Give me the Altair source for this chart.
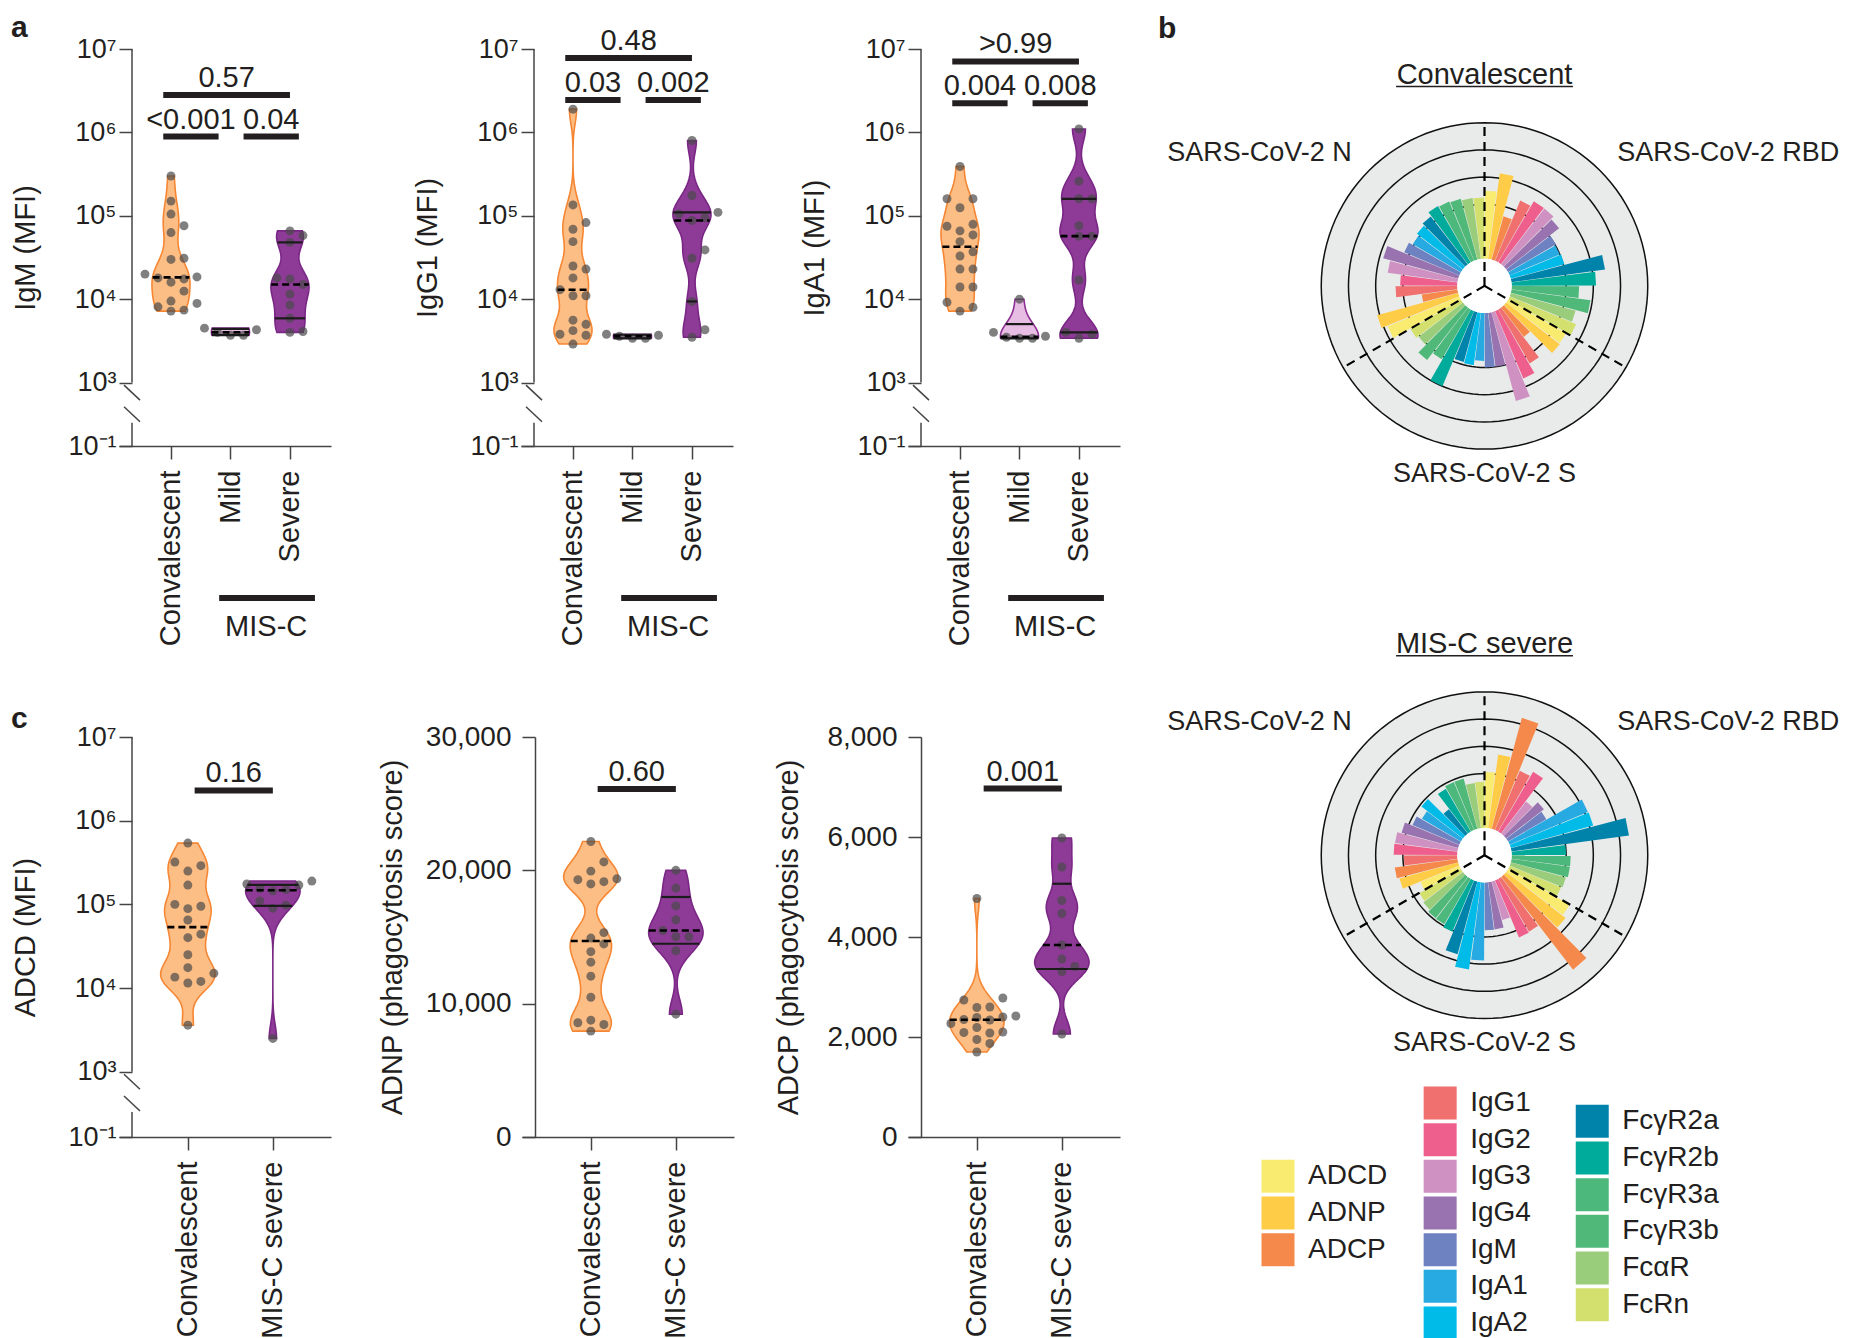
import altair as alt
import numpy as np
import pandas as pd

FONT = "Liberation Sans"
INK = "#231f20"
AXC = "#444444"

# ---------------------------------------------------------------- data: panel a / c
A_GROUPS = ["Convalescent", "Mild", "Severe"]
C_GROUPS = ["Convalescent", "MIS-C severe"]

IGM_CONV = [3.0e5, 1.5e5, 1.05e5, 7.6e4, 6.3e4, 3.1e4, 3.0e4, 2.0e4, 1.85e4, 1.8e4,
            1.75e4, 1.6e4, 1.25e4, 9.5e3, 8.9e3, 8.1e3, 7.4e3, 7.2e3]
IGM_MILD = [4.5e3, 4.3e3, 4.0e3, 3.7e3, 3.7e3]
IGM_SEV = [6.6e4, 5.8e4, 4.8e4, 1.8e4, 1.75e4, 1.5e4, 1.15e4, 8.5e3, 5.9e3, 4.1e3, 4.0e3]

IGG1_CONV = [1.9e6, 1.35e5, 8.3e4, 6.9e4, 4.9e4, 2.5e4, 2.3e4, 1.8e4, 1.3e4, 1.1e4,
             1.1e4, 5.6e3, 5.0e3, 4.2e3, 3.8e3, 3.7e3, 2.9e3]
IGG1_MILD = [3.8e3, 3.7e3, 3.6e3, 3.4e3, 3.4e3]
IGG1_SEV = [8.0e5, 1.75e5, 1.1e5, 1.05e5, 9.5e4, 8.8e4, 3.9e4, 3.1e4, 9.4e3, 4.3e3, 3.5e3]

IGA1_CONV = [3.9e5, 1.6e5, 1.6e5, 1.25e5, 7.9e4, 7.5e4, 6.6e4, 5.9e4, 4.9e4, 3.7e4,
             3.3e4, 2.3e4, 2.3e4, 1.4e4, 1.4e4, 9.2e3, 8.0e3, 7.2e3]
IGA1_MILD = [1.0e4, 4.0e3, 3.6e3, 3.5e3, 3.4e3, 3.4e3]
IGA1_SEV = [1.1e6, 2.6e5, 1.6e5, 1.6e5, 7.6e4, 5.7e4, 5.7e4, 1.7e4, 4.0e3, 3.8e3, 3.4e3]

ADCD_CONV = [5.4e5, 3.2e5, 2.9e5, 2.5e5, 1.7e5, 1.0e5, 9.5e4, 8.9e4, 6.5e4, 4.4e4,
             4.0e4, 2.5e4, 1.75e4, 1.5e4, 1.35e4, 1.2e4, 1.15e4, 3.6e3]
ADCD_SEV = [1.9e5, 1.75e5, 1.7e5, 1.55e5, 1.5e5, 1.45e5, 1.1e5, 9.8e4, 9.0e4, 2.5e3]

ADNP_CONV = [22160, 20630, 19940, 19365, 19300, 19150, 18980, 15330, 14920, 14480,
             13900, 13110, 12060, 10480, 8760, 8570, 8440, 7940]
ADNP_SEV = [20000, 18670, 17330, 16290, 15490, 15020, 15020, 13970, 9210]

ADCP_CONV = [4770, 2780, 2740, 2600, 2590, 2420, 2400, 2390, 2350, 2340,
             2270, 2190, 2100, 2090, 2080, 1950, 1870, 1700]
ADCP_SEV = [5980, 5400, 4730, 4470, 3840, 3560, 3410, 3310, 2060]

# p-value brackets: (group i, group j, level, label)
IGM_P = [(0, 1, 8.9e5, "<0.001"), (1, 2, 8.9e5, "0.04"), (0, 2, 2.8e6, "0.57")]
IGG1_P = [(0, 1, 2.45e6, "0.03"), (1, 2, 2.45e6, "0.002"), (0, 2, 7.8e6, "0.48")]
IGA1_P = [(0, 1, 2.24e6, "0.004"), (1, 2, 2.24e6, "0.008"), (0, 2, 7.1e6, ">0.99")]
ADCD_P = [(0, 1, 2.3e6, "0.16")]
ADNP_P = [(0, 1, 26100, "0.60")]
ADCP_P = [(0, 1, 6970, "0.001")]

GROUP_FILL = {"Convalescent": "#FDBE85", "Mild": "#E8BDE4", "Severe": "#8E3B97", "MIS-C severe": "#8E3B97"}
GROUP_STROKE = {"Convalescent": "#F58634", "Mild": "#8C2F93", "Severe": "#7A2685", "MIS-C severe": "#7A2685"}

# ---------------------------------------------------------------- data: panel b
ANTIGENS = ["SARS-CoV-2 RBD", "SARS-CoV-2 S", "SARS-CoV-2 N"]
FEATURES = ["ADCD", "ADNP", "ADCP", "IgG1", "IgG2", "IgG3", "IgG4", "IgM", "IgA1", "IgA2",
            "FcγR2a", "FcγR2b", "FcγR3a", "FcγR3b", "FcαR", "FcRn"]
FEATURE_FAMILY = [0, 0, 0, 1, 1, 1, 1, 1, 1, 1, 2, 2, 2, 2, 2, 2]
FEATURE_COLORS = ["#F8EB70", "#FFCC48", "#F5894B", "#F06F6F", "#EE5F8D", "#CF90C2", "#9873B0",
                  "#6E81C1", "#27A9E1", "#00BAE8", "#0083AA", "#00AB9C", "#4DB87B", "#50B97A",
                  "#99CC7B", "#D3E06E"]

CONV_RBD = [3.5, 4.18, 2.65, 3.4, 3.6, 3.6, 3.47, 3.04, 3.0, 3.04, 4.47, 4.1, 3.48, 3.93, 3.47, 3.65]
CONV_S = [3.47, 3.5, 2.37, 3.3, 3.69, 4.39, 3.0, 3.0, 2.76, 2.94, 2.9, 4.0, 3.12, 3.45, 3.06, 3.15]
CONV_N = [3.86, 4.09, 2.33, 3.27, 3.1, 3.59, 3.86, 3.2, 3.05, 3.14, 3.23, 3.4, 3.36, 3.32, 3.26, 3.25]

MISC_RBD = [3.06, 3.73, 5.23, 3.36, 3.55, 2.5, 2.76, 2.63, 4.12, 4.14, 5.36, 3.0, 3.17, 3.17, 3.1, 3.05]
MISC_S = [3.62, 3.77, 5.32, 3.25, 3.28, 2.47, 2.75, 2.76, 3.87, 4.24, 3.77, 3.05, 2.94, 2.93, 2.84, 2.77]
MISC_N = [2.55, 3.24, 3.33, 2.97, 3.34, 3.32, 3.16, 2.87, 2.66, 2.93, 2.14, 2.83, 2.92, 2.92, 2.68, 2.7]

RING_VALUES = [3, 4, 5, 6]
HOLE = 1

# ---------------------------------------------------------------- layout constants
PANEL_W = 212
A_XDOM = [-0.874, 2.69]
C_XDOM = [-0.81, 1.684]
A_H, A_YDOM = 397, [2.24, 7.0]
C_H, C_LOG_YDOM = 400, [2.22, 7.0]
BREAK = (2.52, 3.0)
HALF_W = 0.32
LOG_BW = 0.17

P_PPU = 27.2
P_XDOM = [-12.0, 12.0]
P_W = int(round((P_XDOM[1] - P_XDOM[0]) * P_PPU))
LETTER_SIZE = 30


def swarm(ypx, step=13.0, diam=10.0):
    order = np.argsort(ypx)
    placed = []
    out = np.zeros(len(ypx))
    for i in order:
        y = ypx[i]
        x = 0.0
        for k in (0, 1, -1, 2, -2, 3, -3):
            x = k * step
            if all((x - px) ** 2 + (y - py) ** 2 >= diam ** 2 for px, py in placed):
                break
        placed.append((x, y))
        out[i] = x
    return out


def bracket_span(i, j, n):
    if n == 2:
        return i + 0.08, j + 0.0
    if j - i == 2:
        return i - 0.13, j + 0.0
    if i == 0:
        return i - 0.13, j - 0.2
    return i + 0.22, j + 0.15


SUP = {3: "³", 4: "⁴", 5: "⁵", 6: "⁶", 7: "⁷"}


def violin_panel(ytitle, groups, series, brackets, log, ydom, height, xdom, bw,
                 ext, lin_ticks=None, misc=False):
    n = len(groups)
    xppu = PANEL_W / (xdom[1] - xdom[0])
    yppu = height / (ydom[1] - ydom[0])
    rows = []
    for gi, (g, vals) in enumerate(zip(groups, series)):
        yv = np.log10(vals) if log else np.asarray(vals, float)
        offs = swarm(yv * yppu)
        for v, o in zip(vals, offs):
            rows.append({"grp": g, "pos": gi, "v": v, "jx": o / xppu})
    df = pd.DataFrame(rows)
    yexpr = "log(datum.v)/LN10" if log else "datum.v"

    xs = alt.Scale(domain=xdom, nice=False, zero=False)
    ys = alt.Scale(domain=ydom, nice=False, zero=False)
    lab = " : ".join(f"datum.value == {i} ? '{g}'" for i, g in enumerate(groups[:-1]))
    lab += f" : '{groups[-1]}'"
    xaxis = alt.Axis(values=list(range(n)), labelExpr=lab, title=None, labelAngle=270,
                     labelAlign="right", labelBaseline="middle", labelPadding=11, tickSize=13,
                     grid=False, domainColor=AXC, tickColor=AXC, domainWidth=1.5, tickWidth=1.5,
                     labelFont=FONT, labelFontSize=29, labelColor=INK, labelLimit=400,
                     labelFlush=False, labelOverlap=False)
    common_y = dict(title=ytitle, offset=-13, tickSize=13, grid=False, tickColor=AXC,
                    tickWidth=1.5, domainColor=AXC, domainWidth=1.5, labelFont=FONT,
                    labelColor=INK, titleFont=FONT, titleFontSize=29, titleFontWeight="normal",
                    titleColor=INK, titlePadding=12, minExtent=ext, maxExtent=ext,
                    labelFlush=False, labelOverlap=False, titleLimit=600)
    if log:
        lexpr = (f"datum.value < 2.6 ? '10⁻¹' : " +
                 " : ".join(f"datum.value == {k} ? '10{SUP[k]}'" for k in (3, 4, 5, 6)) +
                 f" : '10{SUP[7]}'")
        yaxis = alt.Axis(values=[ydom[0], 3, 4, 5, 6, 7], labelExpr=lexpr, domain=False,
                         labelPadding=3, labelFontSize=27, **common_y)
    else:
        yaxis = alt.Axis(values=lin_ticks, format=",d", domain=True, labelPadding=11,
                         labelFontSize=28, **common_y)

    def X(f, **kw):
        return alt.X(f, type="quantitative", scale=xs, axis=xaxis, **kw)

    def Y(f):
        return alt.Y(f, type="quantitative", scale=ys, axis=yaxis)

    base = alt.Chart(df).transform_calculate(y=yexpr)
    fill_scale = alt.Scale(domain=list(GROUP_FILL.keys()), range=list(GROUP_FILL.values()))
    stroke_scale = alt.Scale(domain=list(GROUP_STROKE.keys()), range=list(GROUP_STROKE.values()))

    violins, lines = [], []
    for gi, g in enumerate(groups):
        # quartiles at rank (n+1)p, interpolated between neighbouring ranks
        gb = (base.transform_filter(f"datum.pos == {gi}")
              .transform_window(rk="row_number()", sort=[alt.SortField("y", order="ascending")])
              .transform_joinaggregate(cnt="count()")
              .transform_calculate(wy1="max(0, 1 - abs(datum.rk - 0.25*(datum.cnt+1)))*datum.y",
                                   wy2="max(0, 1 - abs(datum.rk - 0.50*(datum.cnt+1)))*datum.y",
                                   wy3="max(0, 1 - abs(datum.rk - 0.75*(datum.cnt+1)))*datum.y")
              .transform_joinaggregate(q1="sum(wy1)", med="sum(wy2)", q3="sum(wy3)"))
        violins.append(
            gb.transform_density("y", as_=["yy", "dens"], groupby=["grp", "pos"],
                                 bandwidth=bw, steps=120)
            .transform_joinaggregate(dmax="max(dens)")
            .transform_calculate(xl=f"datum.pos - {HALF_W}*datum.dens/datum.dmax",
                                 xr=f"datum.pos + {HALF_W}*datum.dens/datum.dmax")
            .mark_area(orient="horizontal", strokeWidth=1.6, opacity=1)
            .encode(x=X("xl", stack=None), x2="xr:Q", y=Y("yy"),
                    fill=alt.Fill("grp:N", scale=fill_scale, legend=None),
                    stroke=alt.Stroke("grp:N", scale=stroke_scale, legend=None)))
        lb = (gb.transform_density("y", as_=["yy", "dens"],
                                   groupby=["grp", "pos", "q1", "med", "q3"],
                                   bandwidth=bw, steps=120)
              .transform_calculate(d1="abs(datum.yy - datum.q1)", d2="abs(datum.yy - datum.med)",
                                   d3="abs(datum.yy - datum.q3)")
              .transform_aggregate(a1="argmin(d1)", a2="argmin(d2)", a3="argmin(d3)",
                                   dmax="max(dens)", groupby=["grp", "pos", "q1", "med", "q3"])
              .transform_calculate(
                  l1=f"datum.pos - {HALF_W}*datum.a1.dens/datum.dmax",
                  r1=f"datum.pos + {HALF_W}*datum.a1.dens/datum.dmax",
                  l2=f"datum.pos - {HALF_W}*datum.a2.dens/datum.dmax",
                  r2=f"datum.pos + {HALF_W}*datum.a2.dens/datum.dmax",
                  l3=f"datum.pos - {HALF_W}*datum.a3.dens/datum.dmax",
                  r3=f"datum.pos + {HALF_W}*datum.a3.dens/datum.dmax"))
        if g != "Convalescent":
            for k, f in (("1", "q1"), ("3", "q3")):
                lines.append(lb.mark_rule(color="#1b1b1b", strokeWidth=2.2).encode(
                    x=X("l" + k), x2=f"r{k}:Q", y=Y(f)))
        lines.append(lb.mark_rule(color="black", strokeWidth=2.6, strokeDash=[7, 4]).encode(
            x=X("l2"), x2="r2:Q", y=Y("med")))

    pts = (base.transform_calculate(px="datum.pos + datum.jx")
           .mark_circle(size=80, color="#4a4a4a", opacity=0.7)
           .encode(x=X("px"), y=Y("y")))

    brows = []
    for i, j, lv, labtxt in brackets:
        b1, b2 = bracket_span(i, j, n)
        brows.append({"bx1": b1, "bx2": b2, "bxc": (b1 + b2) / 2, "lv": lv, "label": labtxt})
    bdf = alt.Chart(pd.DataFrame(brows)).transform_calculate(
        yb=yexpr.replace("datum.v", "datum.lv"))
    bbar = bdf.mark_rule(color=INK, strokeWidth=6).encode(x=X("bx1"), x2="bx2:Q", y=Y("yb"))
    btxt = bdf.mark_text(font=FONT, fontSize=29, color=INK, baseline="alphabetic", dy=-8).encode(
        x=X("bxc"), y=Y("yb"), text="label:N")

    layers = violins + [pts] + lines + [bbar, btxt]

    xa = xdom[0] + 13 / xppu
    if log:
        seg = pd.DataFrame({"ya": [ydom[0], BREAK[1]], "yb2": [BREAK[0], ydom[1]]})
        axl = (alt.Chart(seg).transform_calculate(xa=str(xa))
               .mark_rule(color=AXC, strokeWidth=1.5)
               .encode(x=X("xa"), y=Y("ya"), y2="yb2:Q"))
        dx, dy = 8 / xppu, 7.5 / yppu
        sl = pd.DataFrame({"yc": [BREAK[1] - 0.12, BREAK[0] + 0.1]})
        sla = (alt.Chart(sl).transform_calculate(sx1=str(xa - dx), sx2=str(xa + dx),
                                                 sy1=f"datum.yc + {dy}", sy2=f"datum.yc - {dy}")
               .mark_rule(color=AXC, strokeWidth=1.5)
               .encode(x=X("sx1"), y=Y("sy1"), x2="sx2:Q", y2="sy2:Q"))
        layers += [axl, sla]

    if misc:
        mdf = pd.DataFrame([{"m1": 1 - 0.19, "m2": 2 + 0.42, "mc": 1.6,
                             "my": ydom[0] - 152 / yppu, "mt": ydom[0] - 181 / yppu,
                             "label": "MIS-C"}])
        mb = alt.Chart(mdf).mark_rule(color=INK, strokeWidth=6).encode(
            x=X("m1"), x2="m2:Q", y=Y("my"))
        mt = alt.Chart(mdf).mark_text(font=FONT, fontSize=29, color=INK, baseline="middle").encode(
            x=X("mc"), y=Y("mt"), text="label:N")
        layers += [mb, mt]

    return alt.layer(*layers).properties(width=PANEL_W, height=height)


def polar_chart(title, vals, ydom, letter=None):
    height = int(round((ydom[1] - ydom[0]) * P_PPU))
    xs = alt.Scale(domain=P_XDOM, nice=False, zero=False)
    ys = alt.Scale(domain=ydom, nice=False, zero=False)

    def X(f):
        return alt.X(f, type="quantitative", scale=xs, axis=None)

    def Y(f):
        return alt.Y(f, type="quantitative", scale=ys, axis=None)

    rows = []
    for ai, ant in enumerate(ANTIGENS):
        for fi, feat in enumerate(FEATURES):
            rows.append({"ai": ai, "fi": fi, "feature": feat, "val": vals[ai][fi]})
    bdf = pd.DataFrame(rows)
    nf = len(FEATURES)
    step = f"(2*PI/{nf * len(ANTIGENS)})"
    feat_scale = alt.Scale(domain=FEATURES, range=FEATURE_COLORS)

    circ = alt.sequence(0, 361, 3, as_="t")
    rmax = RING_VALUES[-1]
    disk = (alt.Chart(circ)
            .transform_calculate(px=f"{rmax}*sin(datum.t*PI/180)", py=f"{rmax}*cos(datum.t*PI/180)")
            .mark_line(fill="#E9EBEA", strokeWidth=0)
            .encode(x=X("px"), y=Y("py"), order="t:Q"))
    rings = (alt.Chart(circ)
             .transform_calculate(r=str(RING_VALUES))
             .transform_flatten(["r"])
             .transform_calculate(px="datum.r*sin(datum.t*PI/180)", py="datum.r*cos(datum.t*PI/180)")
             .mark_line(stroke="#111111", strokeWidth=1.5)
             .encode(x=X("px"), y=Y("py"), order="t:Q", detail="r:N"))
    bars = (alt.Chart(bdf)
            .transform_calculate(bid=f"datum.ai*{nf}+datum.fi")
            .transform_calculate(a0=f"datum.bid*{step} + 0.004")
            .transform_calculate(a1=f"(datum.bid+1)*{step} - 0.004")
            .transform_calculate(k="[0,1,2,3]")
            .transform_flatten(["k"])
            .transform_calculate(ang="datum.k < 2 ? datum.a0 : datum.a1")
            .transform_calculate(rr=f"(datum.k == 0 || datum.k == 3) ? {HOLE} : datum.val")
            .transform_calculate(px="datum.rr*sin(datum.ang)", py="datum.rr*cos(datum.ang)")
            .mark_line(strokeWidth=0)
            .encode(x=X("px"), y=Y("py"), order="k:Q", detail="bid:N",
                    fill=alt.Fill("feature:N", scale=feat_scale, legend=None)))
    hole = (alt.Chart(circ)
            .transform_calculate(px=f"{HOLE}*sin(datum.t*PI/180)", py=f"{HOLE}*cos(datum.t*PI/180)")
            .mark_line(fill="white", strokeWidth=0)
            .encode(x=X("px"), y=Y("py"), order="t:Q"))
    adf = pd.DataFrame({"antigen": ANTIGENS, "ai": list(range(len(ANTIGENS))),
                        "lang": [45, 180, 315]})
    radial = (alt.Chart(adf)
              .transform_calculate(a=f"datum.ai*2*PI/{len(ANTIGENS)}")
              .transform_calculate(x0="0", y0="0", xe=f"{rmax}*sin(datum.a)", ye=f"{rmax}*cos(datum.a)")
              .mark_rule(color="black", strokeWidth=2.2, strokeDash=[9, 6])
              .encode(x=X("x0"), y=Y("y0"), x2="xe:Q", y2="ye:Q"))
    lab_base = alt.Chart(adf).transform_calculate(
        lx="6.9*sin(datum.lang*PI/180)", ly="6.9*cos(datum.lang*PI/180)")
    labs = []
    for cond, al in (("sin(datum.lang*PI/180) > 0.1", "left"),
                     ("sin(datum.lang*PI/180) < -0.1", "right"),
                     ("abs(sin(datum.lang*PI/180)) <= 0.1", "center")):
        labs.append(lab_base.transform_filter(cond)
                    .mark_text(font=FONT, fontSize=27, color=INK, align=al, baseline="middle")
                    .encode(x=X("lx"), y=Y("ly"), text="antigen:N"))
    tdf = pd.DataFrame([{"title": title, "tx": 0.0, "ty": 7.76, "u1": -3.25, "u2": 3.25, "uy": 7.33}])
    ttl = alt.Chart(tdf).mark_text(font=FONT, fontSize=29, color=INK, baseline="middle").encode(
        x=X("tx"), y=Y("ty"), text="title:N")
    und = alt.Chart(tdf).mark_rule(color=INK, strokeWidth=1.5).encode(
        x=X("u1"), x2="u2:Q", y=Y("uy"))

    ch = alt.layer(disk, rings, bars, hole, radial, *labs, ttl, und).properties(
        width=P_W, height=height)
    if letter:
        ch = ch.properties(title=alt.TitleParams(letter, anchor="start", frame="bounds",
                                                 fontSize=LETTER_SIZE, fontWeight="bold",
                                                 font=FONT, color=INK, offset=5))
    return ch


def legend_chart():
    fam_counts = {f: FEATURE_FAMILY.count(f) for f in set(FEATURE_FAMILY)}
    seen = {}
    rows = []
    for feat, fam in zip(FEATURES, FEATURE_FAMILY):
        r = seen.get(fam, 0)
        seen[fam] = r + 1
        rows.append({"feature": feat, "fam": fam, "ly": (fam_counts[fam] - 1) / 2 - r})
    df = pd.DataFrame(rows)
    col_x = [4.41, 10.37, 15.96]
    xs = alt.Scale(domain=[0, 24], nice=False, zero=False)
    ys = alt.Scale(domain=[-3.6, 3.6], nice=False, zero=False)
    base = alt.Chart(df).transform_calculate(
        lx=f"datum.fam == 0 ? {col_x[0]} : datum.fam == 1 ? {col_x[1]} : {col_x[2]}")
    sq = base.mark_square(size=33 * 33, opacity=1).encode(
        x=alt.X("lx:Q", scale=xs, axis=None), y=alt.Y("ly:Q", scale=ys, axis=None),
        color=alt.Color("feature:N", scale=alt.Scale(domain=FEATURES, range=FEATURE_COLORS),
                        legend=None))
    tx = base.mark_text(font=FONT, fontSize=28, color=INK, align="left", dx=30,
                        baseline="middle").encode(
        x=alt.X("lx:Q", scale=xs, axis=None), y=alt.Y("ly:Q", scale=ys, axis=None),
        text="feature:N")
    return alt.layer(sq, tx).properties(width=P_W, height=int(round(7.2 * 36.7)))


def letter_title(t, off):
    return alt.TitleParams(t, anchor="start", frame="bounds", fontSize=LETTER_SIZE,
                           fontWeight="bold", font=FONT, color=INK, offset=off)


a1 = violin_panel("IgM (MFI)", A_GROUPS, [IGM_CONV, IGM_MILD, IGM_SEV], IGM_P, True,
                  A_YDOM, A_H, A_XDOM, LOG_BW, 80, misc=True)
a2 = violin_panel("IgG1 (MFI)", A_GROUPS, [IGG1_CONV, IGG1_MILD, IGG1_SEV], IGG1_P, True,
                  A_YDOM, A_H, A_XDOM, LOG_BW, 80, misc=True)
a3 = violin_panel("IgA1 (MFI)", A_GROUPS, [IGA1_CONV, IGA1_MILD, IGA1_SEV], IGA1_P, True,
                  A_YDOM, A_H, A_XDOM, LOG_BW, 80, misc=True)

c1 = violin_panel("ADCD (MFI)", C_GROUPS, [ADCD_CONV, ADCD_SEV], ADCD_P, True,
                  C_LOG_YDOM, C_H, C_XDOM, LOG_BW, 80)
c2 = violin_panel("ADNP (phagocytosis score)", C_GROUPS, [ADNP_CONV, ADNP_SEV], ADNP_P, False,
                  [0, 30000], C_H, C_XDOM, 1100, 116, lin_ticks=[0, 10000, 20000, 30000])
c3 = violin_panel("ADCP (phagocytosis score)", C_GROUPS, [ADCP_CONV, ADCP_SEV], ADCP_P, False,
                  [0, 8000], C_H, C_XDOM, 280, 106, lin_ticks=[0, 2000, 4000, 6000, 8000])

row_a = alt.hconcat(alt.hconcat(a1, a2, spacing=82), a3, spacing=67, title=letter_title("a", -16))
row_c = alt.hconcat(alt.hconcat(c1, c2, spacing=47), c3, spacing=40, title=letter_title("c", -11))
left = alt.vconcat(row_a, row_c, spacing=58)

p1 = polar_chart("Convalescent", [CONV_RBD, CONV_S, CONV_N], [-12.32, 8.71], letter="b")
p2 = polar_chart("MIS-C severe", [MISC_RBD, MISC_S, MISC_N], [-8.0, 8.2])
right = alt.vconcat(p1, p2, legend_chart(), spacing=8)

chart = (alt.hconcat(left, right, spacing=38)
         .resolve_scale(fill="independent", stroke="independent", color="independent")
         .properties(padding={"left": 3, "top": 4, "right": 0, "bottom": 0}, background="white")
         .configure_view(strokeWidth=0))

chart.save("out.html", embed_options={"renderer": "svg", "actions": False})
